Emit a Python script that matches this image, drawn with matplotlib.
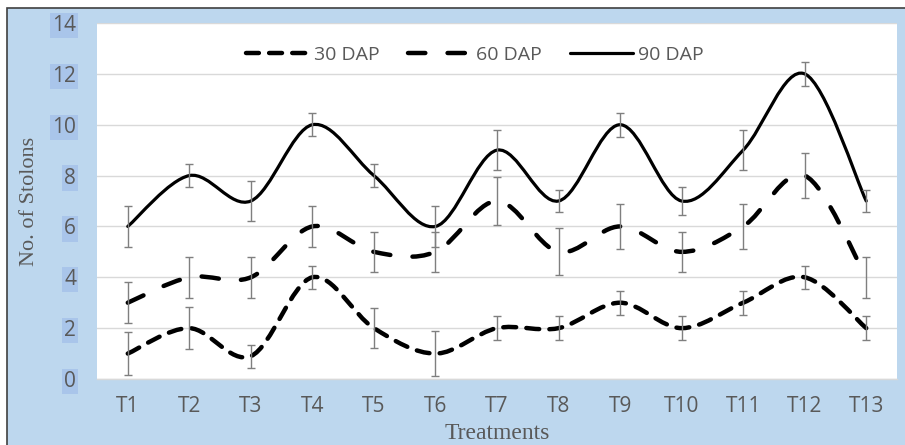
import matplotlib
matplotlib.use("Agg")
import matplotlib.pyplot as plt
from matplotlib.path import Path
from matplotlib.patches import PathPatch, Rectangle
from matplotlib.lines import Line2D
import numpy as np

categories = ["T1", "T2", "T3", "T4", "T5", "T6", "T7", "T8", "T9", "T10", "T11", "T12", "T13"]
dap30 = [1, 2, 0.9, 4, 2, 1, 2, 2, 3, 2, 3, 4, 2]
dap30_err = [0.83, 0.83, 0.45, 0.45, 0.8, 0.87, 0.47, 0.47, 0.47, 0.47, 0.47, 0.45, 0.47]
dap60 = [3, 4, 4, 6, 5, 5, 7, 5, 6, 5, 6, 8, 4]
dap60_err = [0.8, 0.8, 0.8, 0.8, 0.8, 0.8, 0.95, 0.92, 0.87, 0.8, 0.87, 0.88, 0.8]
dap90 = [6, 8, 7, 10, 8, 6, 9, 7, 10, 7, 9, 12, 7]
dap90_err = [0.82, 0.45, 0.8, 0.45, 0.45, 0.82, 0.8, 0.45, 0.47, 0.57, 0.8, 0.48, 0.45]
series_names = ["30 DAP", "60 DAP", "90 DAP"]
yticks = [0, 2, 4, 6, 8, 10, 12, 14]

SANS = ["Open Sans", "DejaVu Sans"]
SERIF = ["Liberation Serif", "DejaVu Serif"]
GRAY = "#595959"

W, H = 905, 445
fig = plt.figure(figsize=(W / 100, H / 100), dpi=100)
fig.patch.set_facecolor("white")
bg = Rectangle((7 / W, -0.1), 1.2, (H - 8) / H + 0.1, transform=fig.transFigure,
               facecolor="#BDD7EE", edgecolor="#404040", lw=1.2, zorder=-10)
fig.add_artist(bg)

ax = fig.add_axes([97 / W, 1 - 379 / H, 800 / W, 356 / H])
ax.set_facecolor("white")
ax.set_xlim(0.5, 13.5)
ax.set_ylim(0, 14)
x = np.arange(1, len(categories) + 1)


def smooth_path(xs, ys):
    xs = np.asarray(xs, float)
    ys = np.asarray(ys, float)
    n = len(xs)
    px = np.concatenate([[xs[0]], xs, [xs[-1]]])
    py = np.concatenate([[ys[0]], ys, [ys[-1]]])
    verts = [(xs[0], ys[0])]
    codes = [Path.MOVETO]
    for i in range(n - 1):
        j = i + 1
        c1 = (px[j] + (px[j + 1] - px[j - 1]) / 6, py[j] + (py[j + 1] - py[j - 1]) / 6)
        c2 = (px[j + 1] - (px[j + 2] - px[j]) / 6, py[j + 1] - (py[j + 2] - py[j]) / 6)
        verts += [c1, c2, (px[j + 1], py[j + 1])]
        codes += [Path.CURVE4] * 3
    return Path(verts, codes)


styles = [
    dict(lw=3.2, ls=(0, (2.9, 2.3))),
    dict(lw=3.2, ls=(0, (3.9, 5.0))),
    dict(lw=2.3, ls="solid"),
]
datas = [(dap30, dap30_err), (dap60, dap60_err), (dap90, dap90_err)]
handles = []
for (vals, errs), st, name in zip(datas, styles, series_names):
    p = PathPatch(smooth_path(x, vals), fill=False, edgecolor="black", lw=st["lw"],
                  linestyle=st["ls"], capstyle="round", joinstyle="round", zorder=3)
    ax.add_patch(p)
    ax.errorbar(x, vals, yerr=errs, fmt="none", ecolor="#7F7F7F", elinewidth=1.0,
                capsize=3.2, capthick=1.0, zorder=4)
    h = Line2D([], [], color="black", lw=st["lw"], linestyle=st["ls"],
               dash_capstyle="round", solid_capstyle="round")
    handles.append(h)

ax.set_xticks(x)
ax.set_xticklabels(categories)
ax.set_yticks(yticks)
ax.set_yticklabels([str(v) for v in yticks])
ax.tick_params(axis="both", length=0, colors=GRAY, labelsize=15)
ax.tick_params(axis="x", pad=12)
ax.tick_params(axis="y", pad=15)
for lab in ax.get_xticklabels() + ax.get_yticklabels():
    lab.set_fontfamily(SANS)
for lab in ax.get_yticklabels():
    lab.set_bbox(dict(facecolor="#A9C5EA", edgecolor="none", pad=1.5))

ax.yaxis.grid(True, color="#D9D9D9", lw=1.0)
ax.set_axisbelow(True)
for s in ["top", "left", "right"]:
    ax.spines[s].set_visible(False)
ax.spines["bottom"].set_color("#D9D9D9")
ax.spines["bottom"].set_linewidth(1.0)

leg = ax.legend(handles, series_names, loc="center", bbox_to_anchor=(0.472, 0.91), ncol=3,
                frameon=False, handlelength=3.25, handletextpad=0.26, columnspacing=1.45,
                prop={"family": SANS, "size": 14})
for t in leg.get_texts():
    t.set_color(GRAY)

fig.text(29 / W, 1 - 201 / H, "No. of Stolons", rotation=90, ha="center", va="center",
         fontsize=16, color=GRAY, family=SERIF)
fig.text(497 / W, 1 / H, "Treatments", ha="center", va="bottom",
         fontsize=17, color=GRAY, family=SERIF)

fig.savefig("out.png", dpi=100, facecolor=fig.get_facecolor())
